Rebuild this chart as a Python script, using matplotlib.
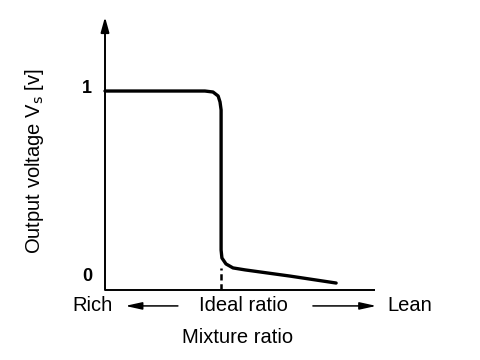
import matplotlib
matplotlib.use("Agg")
import matplotlib.pyplot as plt

plt.rcParams['font.family'] = ['Liberation Sans', 'DejaVu Sans']

# O2 sensor output curve (normalised mixture ratio, volts)
mixture = [0.0, 0.370, 0.400, 0.419, 0.426, 0.430, 0.430, 0.433, 0.448,
           0.474, 0.519, 0.685, 0.856]
voltage = [1.0, 1.0, 0.995, 0.975, 0.945, 0.905, 0.201, 0.161, 0.131,
           0.111, 0.101, 0.070, 0.035]
ideal_x = 0.43
y_ticks = [0, 1]
y_tick_labels = ['0', '1']

fig = plt.figure(figsize=(4.8, 3.6), dpi=100)
ax = fig.add_axes([105/480, 70/360, 270/480, 273/360])
ax.set_xlim(0, 1)
ax.set_ylim(0, 1.372)
for s in ax.spines.values():
    s.set_visible(False)
ax.set_xticks([])
ax.set_yticks([])

# axes
ax.plot([0, 1], [0, 0], color='black', lw=1.4, clip_on=False, solid_capstyle='butt')
ax.annotate('', xy=(0, 1.372), xytext=(0, 0),
            arrowprops=dict(arrowstyle='-|>,head_length=0.9,head_width=0.25',
                            color='black', lw=1.4, shrinkA=0, shrinkB=0))

# curve
ax.plot(mixture, voltage, color='black', lw=2.4, solid_joinstyle='round',
        solid_capstyle='round', clip_on=False)
ax.plot([ideal_x, ideal_x], [0, 0.11], color='black', lw=1.8, ls=(0, (2.5, 1.5)))

# tick labels; the "0" sits a bit above the axis line in the original drawing
for v, lab in zip(y_ticks, y_tick_labels):
    off = 0.07 if v == 0 else 0.015
    ax.text(-0.048, v + off, lab, ha='right', va='center', fontsize=13,
            fontweight='bold')

ax.text(-0.26, 0.645, 'Output voltage V$_\\mathrm{s}$ [v]', rotation=90,
        ha='center', va='center', fontsize=14.5)

yb = -0.08
fs = 14.5
ax.text(-0.048, yb, 'Rich', ha='center', va='center', fontsize=fs)
ax.text(0.513, yb, 'Ideal ratio', ha='center', va='center', fontsize=fs)
ax.text(1.13, yb, 'Lean', ha='center', va='center', fontsize=fs)
ax.annotate('', xy=(0.075, yb), xytext=(0.27, yb),
            arrowprops=dict(arrowstyle='-|>,head_length=1.0,head_width=0.22',
                            color='black', lw=1.1, shrinkA=0, shrinkB=0),
            annotation_clip=False)
ax.annotate('', xy=(1.005, yb), xytext=(0.77, yb),
            arrowprops=dict(arrowstyle='-|>,head_length=1.0,head_width=0.22',
                            color='black', lw=1.1, shrinkA=0, shrinkB=0),
            annotation_clip=False)
ax.text(0.49, -0.24, 'Mixture ratio', ha='center', va='center', fontsize=fs)

fig.savefig('out.png', dpi=100)
